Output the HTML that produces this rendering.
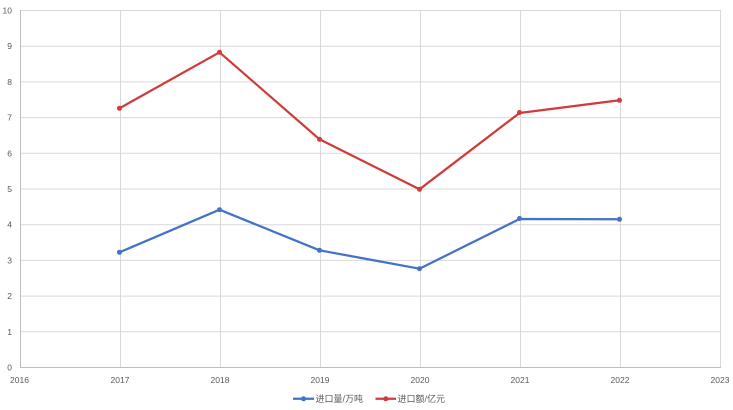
<!DOCTYPE html>
<html>
<head>
<meta charset="utf-8">
<style>
html,body{margin:0;padding:0;background:#fff;}
svg{display:block;}
text{font-family:"Liberation Sans","Noto Sans CJK SC",sans-serif;fill:#595959;}
</style>
</head>
<body>
<svg width="733" height="410" viewBox="0 0 733 410" xmlns="http://www.w3.org/2000/svg">
<rect width="733" height="410" fill="#fff"/>
<g stroke="#D9D9D9" stroke-width="1">
<line x1="20" y1="10.5" x2="721" y2="10.5"/>
<line x1="20" y1="46.2" x2="721" y2="46.2"/>
<line x1="20" y1="81.9" x2="721" y2="81.9"/>
<line x1="20" y1="117.6" x2="721" y2="117.6"/>
<line x1="20" y1="153.3" x2="721" y2="153.3"/>
<line x1="20" y1="189" x2="721" y2="189"/>
<line x1="20" y1="224.7" x2="721" y2="224.7"/>
<line x1="20" y1="260.4" x2="721" y2="260.4"/>
<line x1="20" y1="296.1" x2="721" y2="296.1"/>
<line x1="20" y1="331.8" x2="721" y2="331.8"/>
<line x1="120.5" y1="10" x2="120.5" y2="367.5"/>
<line x1="220.5" y1="10" x2="220.5" y2="367.5"/>
<line x1="320.5" y1="10" x2="320.5" y2="367.5"/>
<line x1="420.5" y1="10" x2="420.5" y2="367.5"/>
<line x1="520.5" y1="10" x2="520.5" y2="367.5"/>
<line x1="620.5" y1="10" x2="620.5" y2="367.5"/>
<line x1="720.5" y1="10" x2="720.5" y2="367.5"/>
</g>
<g stroke="#BFBFBF" stroke-width="1">
<line x1="20.5" y1="10" x2="20.5" y2="368"/>
<line x1="20" y1="367.5" x2="721" y2="367.5"/>
</g>
<g font-size="8.5" text-anchor="end">
<text x="12" y="13.5">10</text>
<text x="12" y="49.2">9</text>
<text x="12" y="84.9">8</text>
<text x="12" y="120.6">7</text>
<text x="12" y="156.3">6</text>
<text x="12" y="192">5</text>
<text x="12" y="227.7">4</text>
<text x="12" y="263.4">3</text>
<text x="12" y="299.1">2</text>
<text x="12" y="334.8">1</text>
<text x="12" y="370.5">0</text>
</g>
<g font-size="8.5" text-anchor="middle">
<text x="19.5" y="383">2016</text>
<text x="120" y="383">2017</text>
<text x="220" y="383">2018</text>
<text x="320" y="383">2019</text>
<text x="420" y="383">2020</text>
<text x="520" y="383">2021</text>
<text x="620" y="383">2022</text>
<text x="720" y="383">2023</text>
</g>
<polyline fill="none" stroke="#4472C4" stroke-width="2.25" stroke-linejoin="round" points="119.5,252.3 219.5,209.7 319.5,250.3 419.5,268.7 519.5,219 619.5,219.3"/>
<g fill="#4472C4">
<circle cx="119.5" cy="252.3" r="2.5"/>
<circle cx="219.5" cy="209.7" r="2.5"/>
<circle cx="319.5" cy="250.3" r="2.5"/>
<circle cx="419.5" cy="268.7" r="2.5"/>
<circle cx="519.5" cy="218.5" r="2.5"/>
<circle cx="619.5" cy="219.3" r="2.5"/>
</g>
<polyline fill="none" stroke="#D13B3B" stroke-width="2.25" stroke-linejoin="round" points="119.5,108.3 219.5,52.3 319.5,139.3 419.5,189.3 519.5,113 619.5,100.3"/>
<g fill="#D13B3B">
<circle cx="119.5" cy="108.3" r="2.5"/>
<circle cx="219.5" cy="52.3" r="2.5"/>
<circle cx="319.5" cy="139.3" r="2.5"/>
<circle cx="419.5" cy="189.3" r="2.5"/>
<circle cx="519.5" cy="112.5" r="2.5"/>
<circle cx="619.5" cy="100.3" r="2.5"/>
</g>
<line x1="293" y1="398.8" x2="314" y2="398.8" stroke="#4472C4" stroke-width="2.25"/>
<circle cx="303.5" cy="398.8" r="2.5" fill="#4472C4"/>
<text x="315.5" y="402" font-size="9">进口量/万吨</text>
<line x1="375.5" y1="398.8" x2="396" y2="398.8" stroke="#D13B3B" stroke-width="2.25"/>
<circle cx="385.8" cy="398.8" r="2.5" fill="#D13B3B"/>
<text x="397.5" y="402" font-size="9">进口额/亿元</text>
</svg>
</body>
</html>
